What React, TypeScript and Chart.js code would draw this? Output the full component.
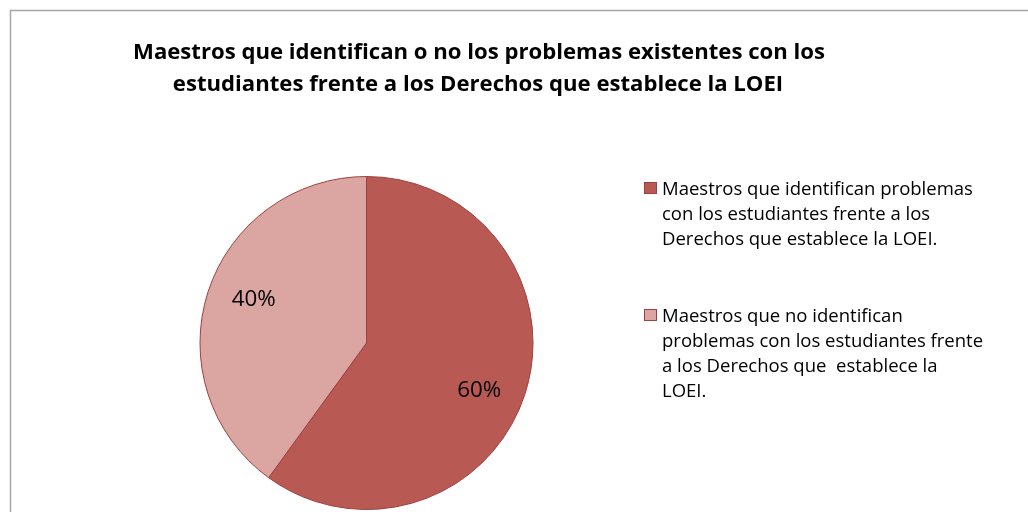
import React, { useEffect, useRef } from "react";
import { Chart, registerables } from "chart.js";

Chart.register(...registerables);

const categories = [
  "Maestros que identifican problemas con los estudiantes frente a los Derechos que establece la LOEI.",
  "Maestros que no identifican problemas con los estudiantes frente a los Derechos que  establece la LOEI.",
];
const values = [60, 40];
const legendLines = [
  ["Maestros que identifican problemas", "con los estudiantes frente a los", "Derechos que establece la LOEI."],
  ["Maestros que no identifican", "problemas con los estudiantes frente", "a los Derechos que  establece la", "LOEI."],
];
const titleLines = [
  "Maestros que identifican o no los problemas existentes con los",
  "estudiantes frente a los Derechos que establece la LOEI",
];
const colors = ["#B85A53", "#DBA5A2"];

const FONT = "'Open Sans', sans-serif";

function fitFont(ctx: CanvasRenderingContext2D, weight: string, text: string, target: number) {
  ctx.font = `${weight} 20px ${FONT}`;
  const w = ctx.measureText(text).width;
  const size = (20 * target) / w;
  ctx.font = `${weight} ${size.toFixed(2)}px ${FONT}`;
  return size;
}

const decorPlugin = {
  id: "decor",
  beforeDraw(chart: any) {
    const ctx = chart.ctx;
    ctx.save();
    ctx.fillStyle = "#ffffff";
    ctx.fillRect(0, 0, chart.width, chart.height);
    ctx.strokeStyle = "#A6A6A6";
    ctx.lineWidth = 1.5;
    ctx.strokeRect(10.5, 10.5, 1200, 700);
    ctx.restore();
  },
  afterDraw(chart: any) {
    const ctx = chart.ctx;
    ctx.save();
    // title
    ctx.fillStyle = "#000";
    fitFont(ctx, "bold", titleLines[0], 692);
    ctx.textAlign = "center";
    ctx.textBaseline = "alphabetic";
    ctx.fillText(titleLines[0], 479, 59);
    ctx.fillText(titleLines[1], 478, 91);

    // percentage labels
    const meta = chart.getDatasetMeta(0);
    const total = values.reduce((a, b) => a + b, 0);
    const ps = fitFont(ctx, "normal", "60%", 44);
    meta.data.forEach((arc: any, i: number) => {
      const p = arc.getProps(["x", "y", "startAngle", "endAngle", "outerRadius"], true);
      const mid = (p.startAngle + p.endAngle) / 2 + (4 * Math.PI) / 180;
      const r = p.outerRadius * 0.73;
      const x = p.x + Math.cos(mid) * r;
      const y = p.y + Math.sin(mid) * r;
      ctx.fillText(Math.round((values[i] / total) * 100) + "%", x, y + ps * 0.36);
    });

    // legend
    ctx.textAlign = "left";
    fitFont(ctx, "normal", legendLines[0][0], 311);
    const starts = [195, 322];
    const boxes = [182, 309];
    const lh = 25;
    legendLines.forEach((lines, i) => {
      const y0 = starts[i];
      ctx.fillStyle = colors[i];
      ctx.fillRect(644, boxes[i], 13, 12);
      ctx.strokeStyle = "#9E413E";
      ctx.lineWidth = 1;
      ctx.strokeRect(644.5, boxes[i] + 0.5, 12, 11);
      ctx.fillStyle = "#000";
      lines.forEach((l, j) => ctx.fillText(l, 662, y0 + j * lh));
    });
    ctx.restore();
  },
};

export default function App() {
  const ref = useRef<HTMLCanvasElement>(null);
  useEffect(() => {
    if (!ref.current) return;
    const chart = new Chart(ref.current, {
      type: "pie",
      data: {
        labels: categories,
        datasets: [
          {
            data: values,
            backgroundColor: colors,
            borderColor: "#9E413E",
            borderWidth: 1,
          },
        ],
      },
      options: {
        animation: false,
        responsive: false,
        maintainAspectRatio: false,
        layout: { padding: { left: 199, right: 494, top: 176, bottom: 2 } },
        plugins: {
          legend: { display: false },
          title: { display: false },
          tooltip: { enabled: false },
        },
      },
      plugins: [decorPlugin],
    });
    return () => chart.destroy();
  }, []);
  return (
    <div style={{ position: "absolute", left: 0, top: 0, width: 1028, height: 512 }}>
      <canvas ref={ref} width={1028} height={512} style={{ width: 1028, height: 512 }} />
    </div>
  );
}
